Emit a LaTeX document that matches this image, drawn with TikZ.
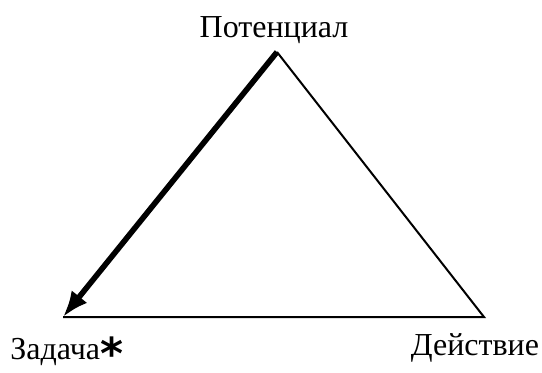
\documentclass[tikz,border=0pt]{standalone}
\usepackage{fontspec}
\setmainfont{Liberation Serif}
\newfontfamily\starfont{DejaVu Sans}
\usetikzlibrary{arrows.meta}

\begin{document}
\begin{tikzpicture}[
  x=0.5pt,y=-0.5pt,
  font=\fontsize{16}{19}\selectfont,
  side/.style={line width=1pt},
  push/.style={line width=2.8pt,-{Latex[length=13pt,width=10pt]}},
  lab/.style={anchor=base,inner sep=0pt},
]
  \useasboundingbox (0,0) rectangle (542,372);
  \coordinate (top) at (277,52);
  \coordinate (left) at (63,317);
  \coordinate (right) at (484,317);
  \node[lab] (pot) at (274,37) {Потенциал};
  \node[lab,anchor=base west] (zad) at (10,359) {Задача\raisebox{-5pt}[10pt][0pt]{\starfont\bfseries\fontsize{22}{22}\selectfont *}};
  \node[lab] (dei) at (475,355) {Действие};
  \draw[side] (top) -- (right) -- (left);
  \draw[push] (top) -- (left);
\end{tikzpicture}
\end{document}
